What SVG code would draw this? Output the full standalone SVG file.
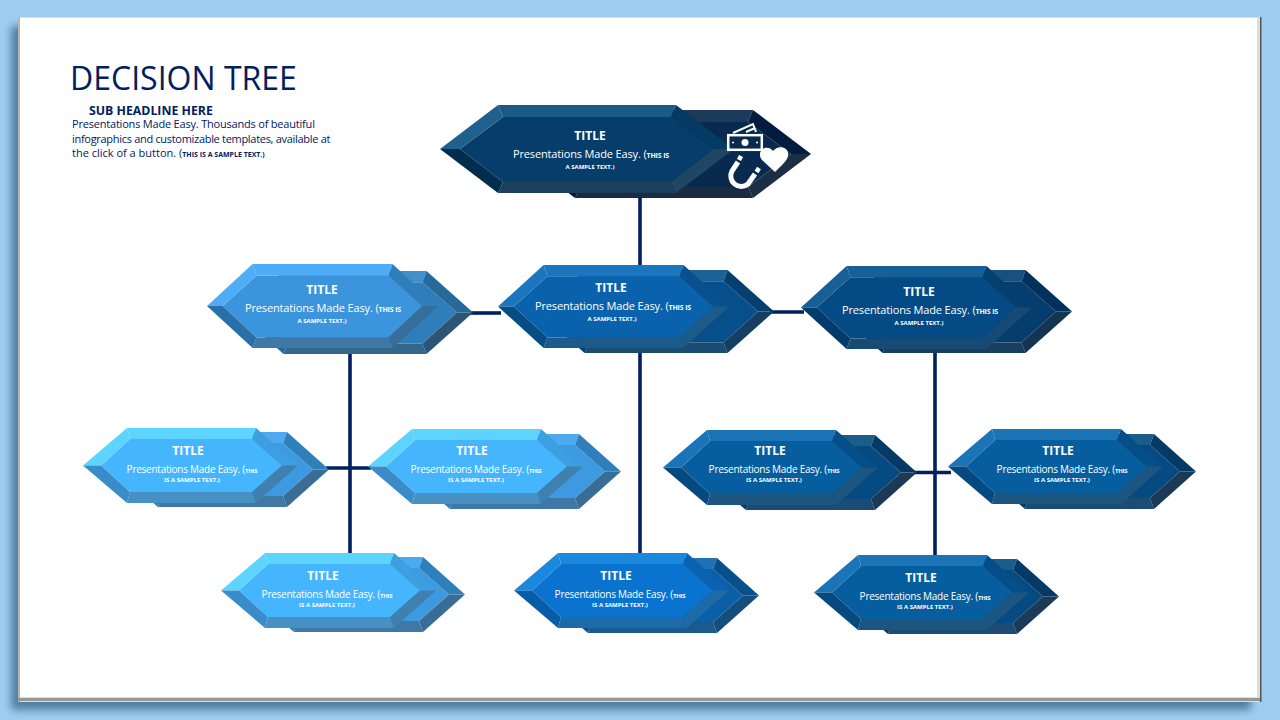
<svg xmlns="http://www.w3.org/2000/svg" width="1280" height="720" viewBox="0 0 1280 720">
<style>
text{font-family:"Open Sans","Noto Sans",sans-serif;text-anchor:middle;fill:#fff}
.h{font-weight:700;font-size:12px}
.b{font-size:11px;letter-spacing:-.15px}
.s{font-size:10px;letter-spacing:-.25px}
.x{font-weight:700;font-size:7px}
.xl{font-weight:700;font-size:6px}
.nv text{fill:#002060;text-anchor:start}
.conn line{stroke:#002060;stroke-width:3.6;fill:none}
.tc{fill:var(--c)}.tt{fill:var(--t)}.tl{fill:var(--l,var(--t))}.tb{fill:var(--bl)}.tm{fill:var(--b)}.tr{fill:var(--tr)}.tq{fill:var(--br)}
.a1{--c:#073d6b;--t:#1b5a87;--l:#20608c;--bl:#022d4d;--b:#1c3f5d;--tr:#053a63;--br:#1f4764}
.a2{--c:#072a4e;--t:#1c3a5a;--bl:#021c3f;--b:#1b2b41;--tr:#021c3f;--br:#1c2e44}
.b1{--c:#3c94dc;--t:#4fadf7;--bl:#2a70a8;--b:#3e78a6;--tr:#2f7eba;--br:#366d99}
.b2{--c:#2f7db9;--t:#4290cb;--bl:#256a9b;--b:#35668c;--tr:#256a9b;--br:#2c5575}
.c1{--c:#0a62ac;--t:#1a77bf;--bl:#064d86;--b:#1c5a8a;--tr:#08508f;--br:#1c5a8a}
.c2{--c:#064f8a;--t:#1c6296;--bl:#053f6f;--b:#1a4b70;--tr:#053f6f;--br:#143f62}
.d1{--c:#044b85;--t:#165f97;--bl:#033c6a;--b:#184b73;--tr:#043f70;--br:#184b73}
.d2{--c:#043d6e;--t:#1a5080;--bl:#02325c;--b:#173f60;--tr:#02325c;--br:#143552}
.e1{--c:#45b5fd;--t:#5dd4fe;--bl:#3a8cc8;--b:#4690c4;--tr:#3d9fe0;--br:#3f80ae}
.e2{--c:#3d9ae0;--t:#4daaf0;--bl:#2f7fba;--b:#3f78a6;--tr:#2f7fba;--br:#3a6d96}
.f1{--c:#0a72cf;--t:#1a88dd;--bl:#085ca8;--b:#1c6aa8;--tr:#0a62b0;--br:#1c6aa8}
.f2{--c:#0a5fa6;--t:#1c72b4;--bl:#084f8c;--b:#1a5a8c;--tr:#084f8c;--br:#154e7a}
.g1{--c:#065e9e;--t:#1c74b8;--bl:#044a80;--b:#1c5580;--tr:#054e88;--br:#1c5580}
.g2{--c:#054a80;--t:#1a5c8a;--bl:#053a66;--b:#1c4c73;--tr:#053a66;--br:#1a3a58}
</style>
<defs>
<g id="hex">
<polygon class="tc" points="20,44 63,12 231,12 274,44 231,77 63,77"/>
<polygon class="tt" points="58,0 236,0 231,12 63,12"/>
<polygon class="tl" points="0,44 58,0 63,12 20,44"/>
<polygon class="tb" points="0,44 20,44 63,77 58,88"/>
<polygon class="tm" points="58,88 63,77 231,77 236,88"/>
<polygon class="tr" points="236,0 294,44 274,44 231,12"/>
<polygon class="tq" points="294,44 236,88 231,77 274,44"/>
</g>
<g id="sm">
<polygon class="tc" points="18,37.5 47,11 169,11 199,37.5 169,64 47,64"/>
<polygon class="tt" points="44,0 173,0 169,11 47,11"/>
<polygon class="tl" points="0,37.5 44,0 47,11 18,37.5"/>
<polygon class="tb" points="0,37.5 18,37.5 47,64 44,75"/>
<polygon class="tm" points="44,75 47,64 169,64 173,75"/>
<polygon class="tr" points="173,0 215,37.5 199,37.5 169,11"/>
<polygon class="tq" points="215,37.5 173,75 169,64 199,37.5"/>
</g>
<filter id="sh" x="-5%" y="-5%" width="110%" height="110%"><feGaussianBlur stdDeviation="4"/></filter>
</defs>
<rect width="1280" height="720" fill="#9dcef1"/>
<rect x="11" y="26" width="1240" height="684" fill="#4f7d9f" filter="url(#sh)"/>
<rect x="18" y="17" width="1243" height="685" fill="#dcdcdc"/>
<rect x="18" y="17" width="2" height="685" fill="#b5b5b5"/>
<rect x="18" y="698" width="1243" height="3" fill="#969696"/>
<rect x="1260" y="17" width="1.5" height="685" fill="#555"/>
<rect x="20" y="18" width="1237" height="679" fill="#fff"/>
<g class="nv">
<text x="70" y="90" style="font-size:32px">DECISION TREE</text>
<text x="89" y="115" style="font-size:12.3px;font-weight:700">SUB HEADLINE HERE</text>
<text x="72" y="128" style="font-size:11px;letter-spacing:-.2px">Presentations Made Easy. Thousands of beautiful</text>
<text x="72" y="143" style="font-size:11px;letter-spacing:-.3px">infographics and customizable templates, available at</text>
<text x="72" y="157" style="font-size:11px">the click of a button. (<tspan style="font-size:7px;font-weight:700">THIS IS A SAMPLE TEXT.)</tspan></text>
</g>
<g class="conn">
<line x1="640" y1="195" x2="640" y2="268"/>
<line x1="640" y1="350" x2="640" y2="556"/>
<line x1="470" y1="313" x2="501" y2="313"/>
<line x1="770" y1="312" x2="804" y2="312"/>
<line x1="350" y1="351" x2="350" y2="556"/>
<line x1="326" y1="468" x2="371" y2="468"/>
<line x1="935" y1="350" x2="935" y2="558"/>
<line x1="914" y1="472.5" x2="951" y2="472.5"/>
</g>
<g id="n-top">
<use href="#hex" class="a2" transform="translate(517 110)"/>
<use href="#hex" class="a1" transform="translate(440 105)"/>
<text class="h" x="590" y="140">TITLE</text>
<text class="b" x="591" y="158">Presentations Made Easy. (<tspan class="x">THIS IS</tspan></text>
<text class="xl" x="590" y="169">A SAMPLE TEXT.)</text>
<g fill="none" stroke="#fff">
<rect x="728.2" y="135.2" width="33.6" height="14.6" stroke-width="2.5"/>
<path d="M733 133L753 124L756 132M746 132L755 128" stroke-width="2"/>
<path d="M738 162L732 171A10.5 10.5 0 0 0 748 184L755 174" stroke-width="5"/>
<path d="M739 160L741 156M756.5 172L759 168" stroke-width="4.5"/>
</g>
<circle cx="745" cy="142.5" r="3.5" fill="#fff"/>
<circle cx="733" cy="142.5" r="1" fill="#fff"/>
<circle cx="757" cy="142.5" r="1" fill="#fff"/>
<path d="M775 172L762 160C756 152 764 145 771 149L773 151C778 144 790 147 788 156C787 161 780 167 775 172Z" fill="#fff"/>
</g>
<g id="n-l">
<use href="#hex" class="b2" transform="translate(237 271) scale(.803 .943)"/>
<use href="#hex" class="b1" transform="translate(207 264) scale(.786 .955)"/>
<text class="h" x="322" y="294">TITLE</text>
<text class="b" x="323" y="312">Presentations Made Easy. (<tspan class="x">THIS IS</tspan></text>
<text class="xl" x="322" y="323">A SAMPLE TEXT.)</text>
</g>
<g id="n-c">
<use href="#hex" class="c2" transform="translate(538 270) scale(.803 .943)"/>
<use href="#hex" class="c1" transform="translate(498 265) scale(.786 .943)"/>
<text class="h" x="611" y="292">TITLE</text>
<text class="b" x="613" y="310">Presentations Made Easy. (<tspan class="x">THIS IS</tspan></text>
<text class="xl" x="612" y="321">A SAMPLE TEXT.)</text>
</g>
<g id="n-r">
<use href="#hex" class="d2" transform="translate(836 270) scale(.803 .943)"/>
<use href="#hex" class="d1" transform="translate(801 266) scale(.786 .943)"/>
<text class="h" x="919" y="296">TITLE</text>
<text class="b" x="920" y="314">Presentations Made Easy. (<tspan class="x">THIS IS</tspan></text>
<text class="xl" x="919" y="325">A SAMPLE TEXT.)</text>
</g>
<g id="n-ll">
<use href="#sm" class="e2" transform="translate(114 432)"/>
<use href="#sm" class="e1" transform="translate(83 428)"/>
<text class="h" x="188" y="455">TITLE</text>
<text class="s" x="192" y="473">Presentations Made Easy. (<tspan class="xl">THIS</tspan></text>
<text class="xl" x="192" y="482">IS A SAMPLE TEXT.)</text>
</g>
<g id="n-lr">
<use href="#sm" class="e2" transform="translate(406 434)"/>
<use href="#sm" class="e1" transform="translate(368 429)"/>
<text class="h" x="472" y="455">TITLE</text>
<text class="s" x="476" y="473">Presentations Made Easy. (<tspan class="xl">THIS</tspan></text>
<text class="xl" x="476" y="482">IS A SAMPLE TEXT.)</text>
</g>
<g id="n-lb">
<use href="#sm" class="e2" transform="translate(250 557)"/>
<use href="#sm" class="e1" transform="translate(221 553)"/>
<text class="h" x="323" y="580">TITLE</text>
<text class="s" x="327" y="598">Presentations Made Easy. (<tspan class="xl">THIS</tspan></text>
<text class="xl" x="327" y="607">IS A SAMPLE TEXT.)</text>
</g>
<g id="n-cb">
<use href="#sm" class="f2" transform="translate(544 558)"/>
<use href="#sm" class="f1" transform="translate(514 553)"/>
<text class="h" x="616" y="580">TITLE</text>
<text class="s" x="620" y="598">Presentations Made Easy. (<tspan class="xl">THIS</tspan></text>
<text class="xl" x="620" y="607">IS A SAMPLE TEXT.)</text>
</g>
<g id="n-rl">
<use href="#sm" class="g2" transform="translate(702 435)"/>
<use href="#sm" class="g1" transform="translate(663 430)"/>
<text class="h" x="770" y="455">TITLE</text>
<text class="s" x="774" y="473">Presentations Made Easy. (<tspan class="xl">THIS</tspan></text>
<text class="xl" x="774" y="482">IS A SAMPLE TEXT.)</text>
</g>
<g id="n-rr">
<use href="#sm" class="g2" transform="translate(981 434)"/>
<use href="#sm" class="g1" transform="translate(948 429)"/>
<text class="h" x="1058" y="455">TITLE</text>
<text class="s" x="1062" y="473">Presentations Made Easy. (<tspan class="xl">THIS</tspan></text>
<text class="xl" x="1062" y="482">IS A SAMPLE TEXT.)</text>
</g>
<g id="n-rb">
<use href="#sm" class="g2" transform="translate(844 559)"/>
<use href="#sm" class="g1" transform="translate(814 555)"/>
<text class="h" x="921" y="582">TITLE</text>
<text class="s" x="925" y="600">Presentations Made Easy. (<tspan class="xl">THIS</tspan></text>
<text class="xl" x="925" y="609">IS A SAMPLE TEXT.)</text>
</g>
</svg>
